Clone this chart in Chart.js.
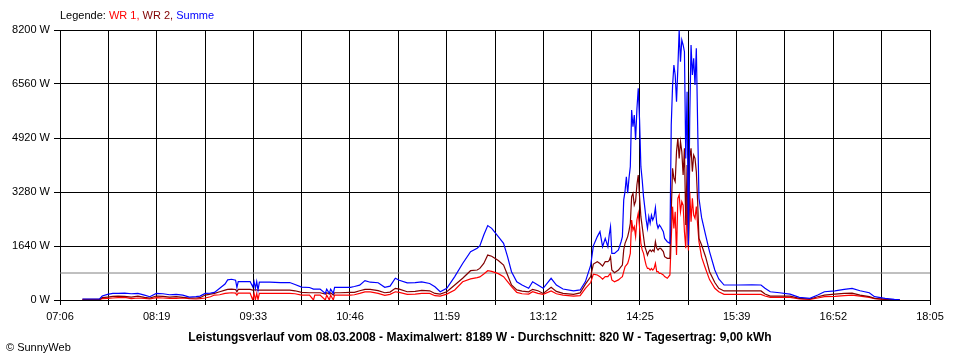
<!DOCTYPE html>
<html lang="de">
<head>
<meta charset="utf-8">
<title>Leistungsverlauf 08.03.2008</title>
<script src="https://cdn.jsdelivr.net/npm/chart.js@4.4.1/dist/chart.umd.min.js"></script>
<style>
  body { margin: 0; background: #fff; }
  #rahmen { position: relative; width: 960px; height: 360px; font-family: "Liberation Sans", Arial, sans-serif; }
  #grafik { position: absolute; left: 0; top: 0; }
  #legende { position: absolute; left: 60px; top: 9px; font-size: 11px; line-height: 13px; color: #000; white-space: nowrap; }
  #titel { position: absolute; left: 0; top: 330px; width: 960px; text-align: center; font-size: 12px; line-height: 14px; font-weight: bold; color: #000; white-space: nowrap; }
  #copy { position: absolute; left: 6px; top: 341px; font-size: 11px; line-height: 13px; color: #000; }
</style>
</head>
<body>
<div id="rahmen">
  <canvas id="grafik" width="960" height="360"></canvas>
  <div id="legende">Legende: <span style="color:#ff0000">WR 1,</span> <span style="color:#800000">WR 2,</span> <span style="color:#0000ff">Summe</span></div>
  <div id="titel">Leistungsverlauf vom 08.03.2008 - Maximalwert: 8189 W - Durchschnitt: 820 W - Tagesertrag: 9,00 kWh</div>
  <div id="copy">© SunnyWeb</div>
</div>
<script>
// Messzeitpunkte (Uhrzeit)
const zeiten = [
  '07:23','07:36','07:38','07:42','07:46','07:50','07:55','08:00','08:05','08:10','08:14','08:19','08:24','08:29','08:34','08:39','08:44','08:49','08:52','08:56',
  '09:00','09:03','09:07','09:11','09:13','09:16','09:19','09:20','09:21','09:25','09:30','09:32','09:33','09:34','09:35','09:36','09:37','09:45','09:53',
  '10:00','10:04','10:09','10:15','10:18','10:19','10:23','10:27','10:28','10:30','10:31','10:33','10:34','10:38','10:46','10:49','10:53','10:57',
  '11:01','11:07','11:12','11:16','11:20','11:23','11:29','11:35','11:40','11:46','11:50','11:54','11:59',
  '12:05','12:11','12:17','12:22','12:24','12:27','12:30','12:33','12:38','12:42','12:45','12:48','12:52','12:56',
  '13:01','13:04','13:08','13:12','13:18','13:22','13:27','13:35','13:40','13:44','13:48','13:50','13:53','13:55','13:57','13:59',
  '14:01','14:02','14:03','14:04','14:06','14:09','14:11','14:12','14:13','14:14','14:15','14:16','14:17','14:18','14:19','14:20',
  '14:21','14:22','14:23','14:24','14:25','14:26','14:27','14:28','14:29','14:30','14:31','14:32','14:33','14:34','14:35','14:36',
  '14:37','14:38','14:39','14:40','14:41','14:43','14:44','14:46','14:48',
  '14:49','14:50','14:51','14:52','14:53','14:54','14:55','14:56','14:57','14:58','14:59','15:00','15:01','15:02','15:03','15:04',
  '15:05','15:06','15:07','15:08','15:09','15:10','15:12','15:15','15:18','15:22','15:25','15:29','15:40','15:50','15:57',
  '16:00','16:04','16:11','16:19','16:26','16:34','16:40','16:45','16:53','17:00','17:06','17:12','17:19','17:23','17:31','17:38','17:42'
];

// Leistung in W
const summe = [
  30,30,120,170,200,200,210,190,200,150,100,200,190,160,170,150,90,100,120,200,
  210,230,355,485,610,630,600,380,560,560,560,400,555,350,560,300,540,540,530,
  530,470,390,380,330,330,330,200,330,200,330,200,385,385,385,410,450,590,
  540,525,385,420,660,600,520,530,550,500,400,250,355,
  710,1110,1470,1570,1640,1975,2260,2175,1925,1720,1315,860,555,455,
  355,555,455,355,660,455,335,275,305,560,1060,1645,1925,2075,1620,1870,
  1620,1975,2225,1415,1415,1520,1770,1925,3040,3300,3745,3240,3700,4050,5770,5260,
  5620,4860,5800,6430,5470,4050,3645,3140,2800,2430,2175,2530,2330,2580,2430,2530,
  2805,2330,2185,2280,2225,2075,1870,1770,1720,
  5315,6500,7135,6835,6020,7035,8189,7235,7895,7745,7540,4300,6325,1670,5520,7745,
  6835,7340,6530,7645,5315,3090,2500,1975,1470,910,640,455,455,460,455,
  355,250,220,180,80,50,150,250,280,325,355,280,220,100,50,20,10
];
const wr2 = [
  20,20,70,90,110,120,110,90,120,80,60,120,110,90,100,80,60,60,70,150,
  180,200,250,300,320,330,320,250,320,320,320,300,310,300,310,290,300,300,300,
  300,280,230,220,220,220,220,180,220,180,220,150,220,220,230,230,280,325,
  325,285,220,240,355,330,250,260,290,280,200,180,250,
  455,660,890,910,960,1110,1365,1330,1200,1060,760,455,305,270,
  250,325,280,200,385,260,200,170,215,480,710,1090,1165,1110,1030,1165,
  1165,1200,1315,910,830,910,1010,1060,1520,1720,1820,1925,2100,2330,3140,3240,
  2885,3000,3500,3795,3140,2530,2230,1925,1620,1500,1365,1470,1520,1470,1520,1470,
  1770,1570,1520,1570,1570,1470,1315,1265,1265,
  2680,4000,3695,3595,4505,4910,4300,4810,4505,3795,4605,2280,4100,1600,4300,4605,
  3900,4400,4300,3900,2985,1870,1670,1315,860,530,355,275,275,275,275,
  180,120,120,120,50,30,100,150,180,200,210,150,100,50,20,10,10
];
const wr1 = [
  10,10,40,50,60,70,80,40,60,50,30,70,60,50,50,60,40,30,40,60,
  100,150,160,200,210,220,210,150,210,210,210,0,200,0,200,10,200,200,200,
  200,190,150,150,0,150,150,0,150,0,150,0,150,150,150,160,200,245,
  245,200,140,170,250,230,170,180,200,200,130,120,180,
  305,555,640,680,700,790,890,870,800,710,560,405,230,190,
  180,250,200,170,275,190,150,120,130,355,530,785,760,710,630,710,
  710,760,810,610,555,610,680,710,860,1010,1060,1110,1250,1415,2430,2125,
  2230,1925,2430,2635,2225,1720,1520,1415,1215,1050,960,960,910,960,910,960,
  1110,860,860,810,810,760,710,660,760,
  1870,2835,2175,2680,1365,3090,3190,2680,2985,2885,2075,1570,3090,1500,3290,2380,
  3090,2580,2480,2835,2280,1770,1300,950,620,355,250,170,170,170,170,
  120,80,80,80,30,20,60,100,110,130,150,120,80,40,20,10,10
];
const durchschnitt = 820;

// Achsenbeschriftung
const xLabels = ['07:06','08:19','09:33','10:46','11:59','13:12','14:25','15:39','16:52','18:05'];
const yTicks = [0, 1640, 3280, 4920, 6560, 8200];

function inMinuten(t) {
  const teile = t.split(':');
  return Number(teile[0]) * 60 + Number(teile[1]);
}

const xMin = inMinuten(xLabels[0]);
const xMax = inMinuten(xLabels[xLabels.length - 1]);
const schritte = (xLabels.length - 1) * 2; // Gitterlinie zwischen den Beschriftungen

const punkte = werte => werte.map((w, i) => ({ x: inMinuten(zeiten[i]), y: w }));

const schrift = { family: '"Liberation Sans", Arial, sans-serif', size: 11 };

const ctx = document.getElementById('grafik').getContext('2d');
const grafik = new Chart(ctx, {
  type: 'line',
  data: {
    datasets: [
      {
        label: 'Durchschnitt',
        data: [{ x: xMin, y: durchschnitt }, { x: xMax, y: durchschnitt }],
        borderColor: '#808080',
        borderWidth: 1,
        order: 3
      },
      {
        label: 'WR 1',
        data: punkte(wr1),
        borderColor: '#ff0000',
        borderWidth: 1.2,
        order: 2
      },
      {
        label: 'WR 2',
        data: punkte(wr2),
        borderColor: '#800000',
        borderWidth: 1.2,
        order: 1
      },
      {
        label: 'Summe',
        data: punkte(summe),
        borderColor: '#0000ff',
        borderWidth: 1.2,
        order: 0
      }
    ]
  },
  options: {
    responsive: false,
    animation: false,
    events: [],
    elements: {
      point: { radius: 0 },
      line: { tension: 0, fill: false }
    },
    layout: { padding: { top: 30, right: 30, bottom: 30, left: 0 } },
    plugins: {
      legend: { display: false },
      tooltip: { enabled: false },
      title: { display: false }
    },
    scales: {
      x: {
        type: 'linear',
        min: xMin,
        max: xMax,
        afterBuildTicks: scale => {
          const t = [];
          for (let i = 0; i <= schritte; i++) t.push({ value: xMin + i * (xMax - xMin) / schritte });
          scale.ticks = t;
        },
        afterFit: scale => { scale.height = 30; },
        ticks: {
          autoSkip: false,
          maxRotation: 0,
          color: '#000',
          font: schrift,
          padding: 5,
          callback: (v, i) => (i % 2 === 0 ? xLabels[i / 2] : '')
        },
        grid: { color: '#000', lineWidth: 1, tickLength: 5, tickColor: '#000' },
        border: { color: '#000' }
      },
      y: {
        min: 0,
        max: yTicks[yTicks.length - 1],
        afterBuildTicks: scale => { scale.ticks = yTicks.map(v => ({ value: v })); },
        afterFit: scale => { scale.width = 60; },
        ticks: {
          color: '#000',
          font: schrift,
          padding: 4,
          callback: v => v + ' W'
        },
        grid: { color: '#000', lineWidth: 1, tickLength: 6, tickColor: '#000' },
        border: { color: '#000' }
      }
    }
  }
});
</script>
</body>
</html>
